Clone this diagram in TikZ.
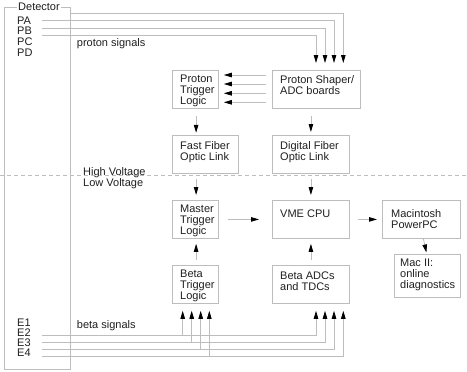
\documentclass[tikz,border=0pt]{standalone}
\usepackage{fontspec}
\setmainfont{Liberation Sans}
\usetikzlibrary{arrows.meta,calc}
\definecolor{ln}{gray}{0.74}
\definecolor{tx}{gray}{0.12}
\begin{document}
\begin{tikzpicture}[x=1bp,y=-1bp,
  box/.style={draw=ln, line width=0.8bp, inner sep=0, anchor=north west},
  txt/.style={font=\fontsize{11bp}{11bp}\selectfont, text=tx, inner sep=0, align=left, anchor=north west},
  lbl/.style={font=\fontsize{11bp}{11bp}\selectfont, text=tx, inner sep=0, anchor=west},
  sig/.style={draw=ln, line width=0.8bp},
  arr/.style={draw=ln, line width=0.8bp, -{Triangle[length=8bp,width=4.5bp,color=black]}},
  volt/.style={draw=ln, line width=0.8bp, dash pattern=on 4bp off 3bp}
]
\useasboundingbox (0,0) rectangle (467,371);

% high/low voltage divider
\draw[volt] (0,175.5) -- (467,175.5);

% detector
\node[box, minimum width=66bp, minimum height=362bp] (det) at (4,7) {};
\node[lbl, fill=white, inner xsep=1.5bp] (detl) at (16.5,7) {Detector};
\node[lbl] (pa) at (17,20.7) {PA};
\node[lbl] (pb) at (17,30.9) {PB};
\node[lbl] (pc) at (17,41.7) {PC};
\node[lbl] (pd) at (17,52.7) {PD};
\node[lbl] (ps0) at (76.7,43.3) {proton signals};
\node[lbl] (e1l) at (17,322.7) {E1};
\node[lbl] (e2l) at (17,332.9) {E2};
\node[lbl] (e3l) at (17,342.9) {E3};
\node[lbl] (e4l) at (17,353) {E4};
\node[lbl] (bs0) at (76.7,326) {beta signals};
\node[lbl] (hv) at (83,172.5) {High Voltage};
\node[lbl] (lv) at (83,183.3) {Low Voltage};

% boxes
\node[box, minimum width=46bp, minimum height=38bp] (ptl) at (172,70) {};
\node[box, minimum width=88bp, minimum height=38bp] (ps) at (272,70) {};
\node[box, minimum width=66bp, minimum height=38bp] (ff) at (172,135) {};
\node[box, minimum width=77bp, minimum height=38bp] (df) at (272,135) {};
\node[box, minimum width=46bp, minimum height=38bp] (mtl) at (172,200) {};
\node[box, minimum width=77bp, minimum height=38bp] (vme) at (272,200) {};
\node[box, minimum width=78bp, minimum height=38bp] (mac) at (382,200) {};
\node[box, minimum width=66bp, minimum height=43bp] (mac2) at (394,254) {};
\node[box, minimum width=46bp, minimum height=38bp] (btl) at (172,265) {};
\node[box, minimum width=77bp, minimum height=38bp] (badc) at (272,265) {};

% box texts
\node[txt] (ptlt) at ($(ptl.north west)+(8,5)$) {Proton\\Trigger\\Logic};
\node[txt] (pst) at ($(ps.north west)+(8,5)$) {Proton Shaper/\\ADC boards};
\node[txt] (fft) at ($(ff.north west)+(8,6.7)$) {Fast Fiber\\Optic Link};
\node[txt] (dft) at ($(df.north west)+(8,6.7)$) {Digital Fiber\\Optic Link};
\node[txt] (mtlt) at ($(mtl.north west)+(8,4.3)$) {Master\\Trigger\\Logic};
\node[txt] (vmet) at ($(vme.north west)+(8,9.5)$) {VME CPU};
\node[txt] (mact) at ($(mac.north west)+(9,9.3)$) {Macintosh\\PowerPC};
\node[txt] (mac2t) at ($(mac2.north west)+(6,4.7)$) {Mac II:\\online\\diagnostics};
\node[txt] (btlt) at ($(btl.north west)+(8,4.3)$) {Beta\\Trigger\\Logic};
\node[txt] (badct) at ($(badc.north west)+(8,7)$) {Beta ADCs\\and TDCs};

% proton signal lines
\coordinate (p0) at (70,13.3);
\coordinate (p1) at (42,20.7);
\coordinate (p2) at (42,28.3);
\coordinate (p3) at (42,35);
\draw[arr] (p0) -| ($(ps.north west)+(71.3,-7)$);
\draw[arr] (p1) -| ($(ps.north west)+(62,-7)$);
\draw[arr] (p2) -| ($(ps.north west)+(53,-7)$);
\draw[arr] (p3) -| ($(ps.north west)+(44,-7)$);

% shaper -> proton trigger
\foreach \dy in {5,14,23.3,32.3}
  \draw[arr] ($(ps.north west)+(-6,\dy)$) -- ($(ptl.north east)+(5,\dy)$);

% vertical links
\draw[arr] ($(ptl.south)+(0.7,7)$) -- ($(ptl.south)+(0.7,24)$);
\draw[arr] ($(ps.south -| df.north)+(0,7)$) -- ($(df.north)+(0,-3)$);
\draw[arr] ($(ptl.south |- ff.south)+(0.7,5)$) -- ($(mtl.north)+(0.7,-5)$);
\draw[arr] ($(df.south)+(0,5)$) -- ($(vme.north)+(0,-5)$);
\draw[arr] ($(btl.north)+(0.7,-5)$) -- ($(mtl.south)+(0.7,5)$);
\draw[arr] ($(badc.north)+(0,-5)$) -- ($(vme.south)+(0,5)$);
\draw[arr] ($(mtl.east)+(9,0)$) -- ($(vme.west)+(-13,0)$);
\draw[arr] ($(vme.east)+(8,0)$) -- ($(mac.west)+(-5,0)$);
\draw[arr] ($(mac.south)+(2,0)$) -- ($(mac2.north)+(-1,-1.5)$);

% beta signal lines
\coordinate (e1) at (42,335.7);
\coordinate (e2) at (42,342.3);
\coordinate (e3) at (42,349.3);
\coordinate (e4) at (42,356);
\coordinate (b1) at ($(btl.south west)+(10.7,7)$);
\coordinate (b2) at ($(btl.south west)+(19.7,7)$);
\coordinate (b3) at ($(btl.south west)+(28.7,7)$);
\coordinate (b4) at ($(btl.south west)+(37.3,7)$);
\draw[arr] (e1) -| ($(badc.south west)+(44,7)$);
\draw[arr] (e2) -| ($(badc.south west)+(53,7)$);
\draw[arr] (e3) -| ($(badc.south west)+(62,7)$);
\draw[arr] (e4) -| ($(badc.south west)+(71.3,7)$);
\draw[arr] (b1 |- e1) -- (b1);
\draw[arr] (b2 |- e2) -- (b2);
\draw[arr] (b3 |- e3) -- (b3);
\draw[arr] (b4 |- e4) -- (b4);
\end{tikzpicture}
\end{document}
